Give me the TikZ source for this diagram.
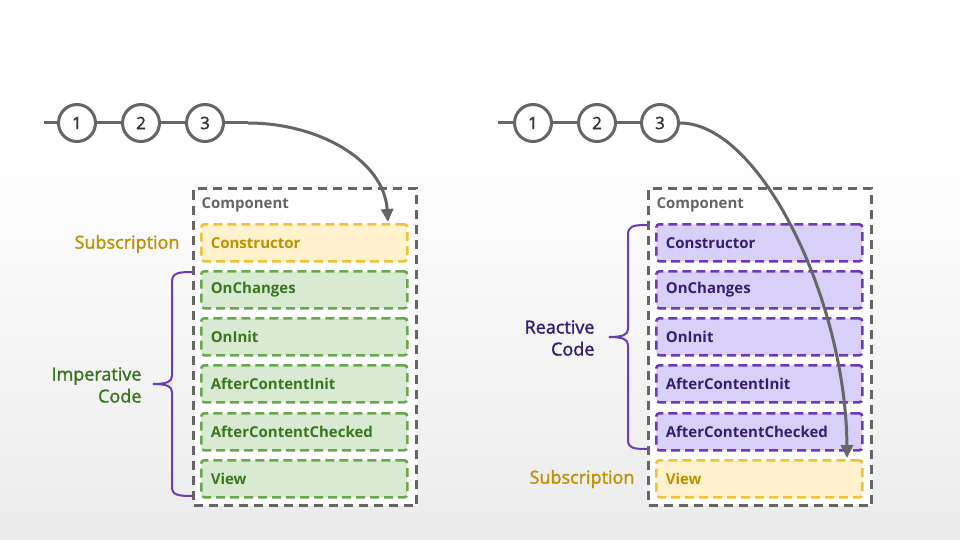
\documentclass[tikz,border=0pt]{standalone}
\usepackage{fontspec}
\setmainfont{Open Sans}
\newfontfamily\medfont{Open Sans}[FakeBold=1.6]
\usetikzlibrary{arrows.meta}
\definecolor{gr}{HTML}{666666}
\definecolor{dk}{HTML}{333333}
\definecolor{ylfill}{HTML}{FFF2CC}
\definecolor{yldraw}{HTML}{F1C232}
\definecolor{yltext}{HTML}{BF9000}
\definecolor{gnfill}{HTML}{D9EAD3}
\definecolor{gndraw}{HTML}{6AA84F}
\definecolor{gntext}{HTML}{38761D}
\definecolor{pufill}{HTML}{D9D0FA}
\definecolor{pudraw}{HTML}{6A3AC0}
\definecolor{putext}{HTML}{351C75}
\definecolor{bgbot}{HTML}{EBEBEB}
\tikzset{
  circ/.style={circle, draw=gr, line width=3pt, minimum size=37pt, inner sep=0pt, fill=white,
    text=dk, font=\medfont\fontsize{17}{17}\selectfont},
  tl/.style={draw=gr, line width=3pt},
  arr/.style={draw=gr, line width=3pt, -{Triangle[length=13pt,width=12pt]}},
  compbox/.style={draw=gr, line width=3pt, dash pattern=on 9pt off 6pt, fill=white,
    minimum width=223pt, minimum height=317pt, anchor=north west, inner sep=0pt, outer sep=0pt},
  complbl/.style={anchor=west, text=gr, font=\bfseries\fontsize{15}{15}\selectfont},
  lc/.style={line width=2.6pt, dash pattern=on 9pt off 5pt, rounded corners=3pt,
    minimum height=37pt, text width=187pt, inner xsep=9.5pt, inner ysep=0pt, align=left,
    outer sep=0pt, anchor=north west, font=\bfseries\fontsize{15}{15}\selectfont},
  ybox/.style={lc, fill=ylfill, draw=yldraw, text=yltext},
  gbox/.style={lc, fill=gnfill, draw=gndraw, text=gntext},
  pbox/.style={lc, fill=pufill, draw=pudraw, text=putext},
  lbl/.style={anchor=east, align=right, font=\medfont\fontsize{18}{22}\selectfont},
  brace/.style={draw=pudraw, line width=2pt},
}
\begin{document}
\begin{tikzpicture}[x=1pt,y=-1pt]
\useasboundingbox (0,0) rectangle (960,540);
\fill[white] (0,0) rectangle (960,540);
\shade[top color=white, bottom color=bgbot] (0,150) rectangle (960,540);

% ---------- left panel ----------
\coordinate (sL) at (44,123);
\node[circ] (l1) at (77,123) {1};
\node[circ] (l2) at (141,123) {2};
\node[circ] (l3) at (205,123) {3};
\draw[tl] (sL) -- (l1);
\draw[tl] (l1) -- (l2);
\draw[tl] (l2) -- (l3);

\node[compbox] (compL) at (193.5,188.5) {};
\node[complbl] (compLl) at (198,205) {Component};
\node[ybox] (consL) at (201.3,224.3) {Constructor};
\node[gbox] (chgL) at (201.3,271.3) {OnChanges};
\node[gbox] (initL) at (201.3,318.3) {OnInit};
\node[gbox] (aciL) at (201.3,365.3) {AfterContentInit};
\node[gbox] (accL) at (201.3,413.3) {AfterContentChecked};
\node[gbox] (viewL) at (201.3,460.3) {View};

\coordinate (bendL) at (248,123);
\coordinate (tipL) at (388,222);
\draw[tl] (l3) -- (bendL);
\draw[arr] (bendL) .. controls (318,123) and (384,160) .. (tipL);

\node[lbl, text=yltext] (subL) at (183,244) {Subscription};
\node[lbl, text=gntext] (impL) at (145,385) {Imperative\\Code};
\draw[brace] (192,272) .. controls (178,272) and (172,273) .. (172,282) -- (172,376)
  .. controls (172,382) and (166,384) .. (153,384)
  .. controls (166,384) and (172,386) .. (172,392) -- (172,487)
  .. controls (172,495) and (178,496) .. (192,496);

% ---------- right panel ----------
\coordinate (sR) at (498,123);
\node[circ] (r1) at (533,123) {1};
\node[circ] (r2) at (597,123) {2};
\node[circ] (r3) at (660,123) {3};
\draw[tl] (sR) -- (r1);
\draw[tl] (r1) -- (r2);
\draw[tl] (r2) -- (r3);

\node[compbox] (compR) at (648.5,188.5) {};
\node[complbl] (compRl) at (653,205) {Component};
\node[pbox] (consR) at (656.3,224.3) {Constructor};
\node[pbox] (chgR) at (656.3,271.3) {OnChanges};
\node[pbox] (initR) at (656.3,318.3) {OnInit};
\node[pbox] (aciR) at (656.3,365.3) {AfterContentInit};
\node[pbox] (accR) at (656.3,413.3) {AfterContentChecked};
\node[ybox] (viewR) at (656.3,460.3) {View};

\coordinate (tipR) at (847,458);
\draw[arr] (r3.east) .. controls (760,123) and (846,300) .. (tipR);

\node[lbl, text=putext] (reaR) at (598,338) {Reactive\\Code};
\node[lbl, text=yltext] (subR) at (638,479) {Subscription};
\draw[brace] (647,225) .. controls (633,225) and (628,226) .. (628,235) -- (628,329)
  .. controls (628,335) and (622,337) .. (609,337)
  .. controls (622,337) and (628,339) .. (628,345) -- (628,440)
  .. controls (628,448) and (633,449) .. (647,449);
\end{tikzpicture}
\end{document}
